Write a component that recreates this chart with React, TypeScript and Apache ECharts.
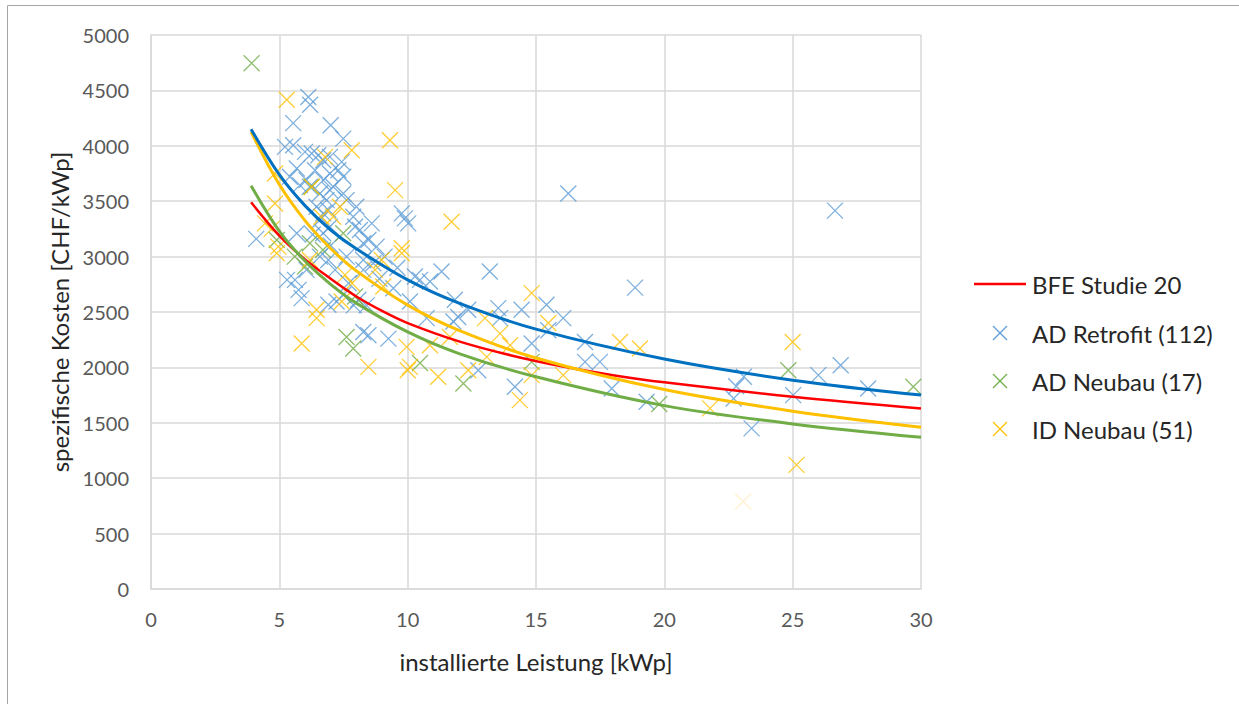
import React, { useEffect, useRef } from "react";
import * as echarts from "echarts";

// ---- data ----
const xTicksMax = 30;
const yTicksMax = 5000;

const adRetrofit: [number, number][] = [
  [4.1, 3160], [6.13, 4440], [6.2, 4370], [5.54, 4205], [7.0, 4185], [7.49, 4065],
  [5.22, 3990], [5.54, 4005], [6.0, 3945], [6.26, 3930], [6.52, 3915], [6.71, 3870],
  [6.97, 3900], [5.68, 3795], [5.41, 3720], [6.39, 3780], [6.97, 3750], [6.71, 3690],
  [6.06, 3690], [6.19, 3630], [5.8, 3645], [6.58, 3570], [6.97, 3600], [6.84, 3510],
  [5.68, 3210], [6.45, 3450], [6.71, 3390], [6.58, 3330], [6.91, 3420], [6.97, 3270],
  [6.71, 3210], [7.43, 3855], [7.3, 3780], [7.49, 3720], [7.1, 3630], [7.49, 3570],
  [7.62, 3510], [7.88, 3360], [7.95, 3270], [8.14, 3240], [8.47, 3150], [8.79, 3090],
  [8.27, 3120], [9.77, 3390], [9.89, 3345], [10.02, 3300], [5.61, 2790], [5.87, 2625],
  [6.91, 2565], [6.06, 2880], [6.58, 3000], [6.91, 2970], [8.27, 2320], [8.47, 2290],
  [9.25, 2260], [7.23, 2595], [7.49, 2655], [8.08, 2610], [7.17, 2880], [7.62, 3000],
  [8.27, 2970], [8.66, 2940], [9.44, 2715], [10.09, 2595], [10.28, 2820], [8.27, 2880],
  [10.48, 2790], [10.87, 2775], [11.32, 2865], [13.2, 2865], [10.74, 2445], [11.84, 2610],
  [11.97, 2455], [11.78, 2415], [12.36, 2520], [13.53, 2535], [13.6, 2445], [14.44, 2520],
  [15.41, 2565], [16.06, 2445], [15.48, 2335], [14.83, 2215], [16.91, 2230], [16.91, 2050],
  [17.49, 2050], [12.75, 1975], [14.18, 1825], [17.95, 1810], [19.31, 1690], [16.26, 3570],
  [18.86, 2720], [26.65, 3415], [22.7, 1720], [22.8, 1830], [23.1, 1915], [23.4, 1450],
  [25.02, 1750], [26.0, 1930], [26.87, 2020], [27.94, 1810], [5.3, 2790], [5.75, 2700],
  [7.9, 2560], [8.4, 2560], [9.1, 3000], [8.9, 2800], [7.0, 3100], [6.3, 3200],
  [8.0, 3450], [8.6, 3300], [9.6, 2900], [7.7, 2760],
];

const adNeubau: [number, number][] = [
  [3.92, 4745], [6.26, 3630], [4.9, 3150], [6.19, 3120], [6.0, 2910], [7.49, 3210],
  [7.95, 2640], [7.62, 2275], [7.88, 2170], [10.48, 2040], [12.17, 1855], [14.83, 2050],
  [19.8, 1670], [24.83, 1975], [29.7, 1825], [6.7, 3060], [5.6, 3000],
];

const idNeubau: [number, number][] = [
  [5.29, 4415], [4.83, 3750], [4.83, 3480], [4.44, 3300], [4.9, 3030], [6.78, 3900],
  [6.26, 3630], [7.82, 3960], [9.31, 4050], [9.51, 3600], [9.77, 3075], [7.36, 3450],
  [7.1, 3360], [6.64, 3360], [6.19, 2970], [6.45, 2520], [6.45, 2445], [5.87, 2215],
  [7.43, 2595], [7.56, 2835], [8.73, 2880], [8.99, 2970], [9.77, 3030], [9.05, 2730],
  [8.47, 2005], [9.96, 2185], [10.09, 2005], [10.0, 1975], [11.71, 3315], [14.83, 2670],
  [15.48, 2400], [13.01, 2445], [13.6, 2305], [13.99, 2200], [11.65, 2275], [10.87, 2200],
  [11.19, 1915], [12.36, 1975], [13.08, 2095], [14.83, 1930], [16.06, 1930], [14.37, 1705],
  [18.27, 2230], [19.05, 2170], [21.78, 1630], [25.15, 1120], [25.0, 2230], [4.7, 3250],
  [4.96, 3090], [7.83, 2760],
];
const idNeubauFaint: [number, number][] = [[23.07, 790]];

const bfeCurve: [number, number][] = [
  [3.9, 3490], [5, 3190], [6, 2975], [7, 2800], [8, 2640], [9, 2510], [10, 2400],
  [12, 2235], [14, 2110], [16, 2010], [18, 1930], [20, 1865], [25, 1735], [30, 1630],
];
const adRetrofitTrend: [number, number][] = [
  [3.9, 4150], [5, 3740], [6, 3460], [7, 3240], [8, 3070], [10, 2790], [12, 2580],
  [15, 2345], [20, 2075], [25, 1885], [30, 1750],
];
const adNeubauTrend: [number, number][] = [
  [3.9, 3640], [5, 3230], [6, 2960], [7, 2750], [8, 2580], [10, 2320], [12, 2125],
  [15, 1915], [20, 1655], [25, 1490], [30, 1370],
];
const idNeubauTrend: [number, number][] = [
  [3.9, 4125], [5, 3650], [6, 3325], [7, 3073], [8, 2871], [10, 2562], [12, 2334],
  [15, 2085], [20, 1800], [25, 1605], [30, 1460],
];

const legendItems = ["BFE Studie 20", "AD Retrofit (112)", "AD Neubau (17)", "ID Neubau (51)"];

const C_BLUE = "#5B9BD5";
const C_GREEN = "#70AD47";
const C_YELLOW = "#FFC000";
const C_RED = "#FF0000";
const C_BLUE_DARK = "#0070C0";
const FONT = "Lato";

const XSYM = "path://M0,0L10,10M10,0L0,10";

function scatter(name: string, data: any[], color: string) {
  return {
    name,
    type: "scatter",
    data,
    symbol: XSYM,
    symbolSize: 16,
    z: 2,
    itemStyle: { color: "rgba(0,0,0,0)", borderColor: color, borderWidth: 1.3 },
  };
}

function trend(name: string, data: [number, number][], color: string, width: number) {
  return {
    name,
    type: "line",
    data,
    smooth: 0.35,
    showSymbol: false,
    symbol: "none",
    z: 5,
    lineStyle: { color, width },
  };
}

function legendX(cx: number, cy: number, color: string) {
  const h = 7;
  return [
    { type: "line", shape: { x1: cx - h, y1: cy - h, x2: cx + h, y2: cy + h }, style: { stroke: color, lineWidth: 1.2 } },
    { type: "line", shape: { x1: cx + h, y1: cy - h, x2: cx - h, y2: cy + h }, style: { stroke: color, lineWidth: 1.2 } },
  ];
}

export default function App() {
  const ref = useRef<HTMLDivElement>(null);
  useEffect(() => {
    if (!ref.current) return;
    const chart = echarts.init(ref.current, undefined, { renderer: "svg" });
    const legendText = (text: string, y: number) => ({
      type: "text",
      x: 1032,
      y,
      style: { text, font: `24px ${FONT}`, fill: "#262626", verticalAlign: "middle" },
    });
    chart.setOption({
      animation: false,
      backgroundColor: "#ffffff",
      textStyle: { fontFamily: FONT },
      grid: { left: 151, top: 35, right: 318, bottom: 115, containLabel: false },
      xAxis: {
        type: "value",
        min: 0,
        max: xTicksMax,
        interval: 5,
        name: "installierte Leistung [kWp]",
        nameLocation: "middle",
        nameGap: 60,
        nameTextStyle: { fontSize: 24, color: "#262626", fontFamily: FONT },
        axisLine: { show: true, lineStyle: { color: "#D9D9D9", width: 1.5 } },
        axisTick: { show: false },
        axisLabel: { color: "#595959", fontSize: 20, margin: 20, fontFamily: FONT },
        splitLine: { show: true, lineStyle: { color: "#D9D9D9", width: 1.5 } },
      },
      yAxis: {
        type: "value",
        min: 0,
        max: yTicksMax,
        interval: 500,
        name: "spezifische Kosten [CHF/kWp]",
        nameLocation: "middle",
        nameGap: 80,
        nameTextStyle: { fontSize: 24, color: "#262626", fontFamily: FONT },
        axisLine: { show: true, lineStyle: { color: "#D9D9D9", width: 1.5 } },
        axisTick: { show: false },
        axisLabel: {
          color: "#595959",
          fontSize: 20,
          margin: 22,
          fontFamily: FONT,
          formatter: (v: number) => String(v),
        },
        splitLine: { show: true, lineStyle: { color: "#D9D9D9", width: 1.5 } },
      },
      series: [
        scatter(legendItems[1], adRetrofit, C_BLUE),
        scatter(legendItems[2], adNeubau, C_GREEN),
        scatter(
          legendItems[3],
          [
            ...idNeubau,
            ...idNeubauFaint.map((v) => ({ value: v, itemStyle: { borderColor: "#FFEFC4" } })),
          ],
          C_YELLOW
        ),
        trend(legendItems[0], bfeCurve, C_RED, 2.5),
        trend("Trend AD Neubau", adNeubauTrend, C_GREEN, 3),
        trend("Trend ID Neubau", idNeubauTrend, C_YELLOW, 3),
        trend("Trend AD Retrofit", adRetrofitTrend, C_BLUE_DARK, 3),
      ],
      graphic: [
        {
          type: "rect",
          shape: { x: 7.5, y: 5.5, width: 1240, height: 710 },
          style: { fill: "none", stroke: "#A6A6A6", lineWidth: 1 },
          silent: true,
        },
        { type: "line", shape: { x1: 974, y1: 284, x2: 1026, y2: 284 }, style: { stroke: C_RED, lineWidth: 2.5 } },
        legendText(legendItems[0], 284),
        ...legendX(1000, 333, C_BLUE),
        legendText(legendItems[1], 333),
        ...legendX(1000, 381, C_GREEN),
        legendText(legendItems[2], 381),
        ...legendX(1000, 429, C_YELLOW),
        legendText(legendItems[3], 429),
      ],
    });
    return () => chart.dispose();
  }, []);
  return (
    <div
      ref={ref}
      style={{ position: "fixed", left: 0, top: 0, width: 1239, height: 704, background: "#fff" }}
    />
  );
}
